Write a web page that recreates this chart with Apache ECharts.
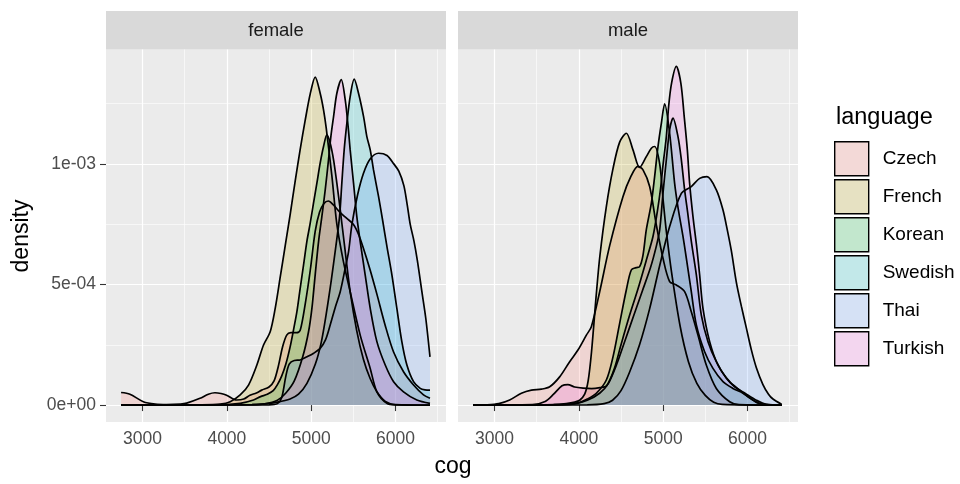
<!DOCTYPE html>
<html>
<head>
<meta charset="utf-8">
<script src="https://cdn.jsdelivr.net/npm/echarts@6/dist/echarts.min.js"></script>
<style>
html,body{margin:0;padding:0;background:#ffffff;}
#chart{width:960px;height:484px;}
</style>
</head>
<body>
<div id="chart"></div>
<script>
// ---- data (x = cog, y = density in units of 1e-3) ----
const languages = ['Czech', 'French', 'Korean', 'Swedish', 'Thai', 'Turkish'];
const fillColors = ['#F8766D', '#B79F00', '#00BA38', '#00BFC4', '#619CFF', '#F564E3'];
const panels = ['female', 'male'];
const xTickValues = [3000, 4000, 5000, 6000];
const xTickLabels = ['3000', '4000', '5000', '6000'];
const xMinorValues = [3500, 4500, 5500, 6500];
const yTickValues = [0, 0.0005, 0.001];
const yTickLabels = ['0e+00', '5e-04', '1e-03'];
const yMinorValues = [0.00025, 0.00075, 0.00125];
const DENSITY_UNIT = 1e-3;

const femaleCzech = [[2745,0.052],[2850,0.045],[3009,0.014],[3150,0.004],[3285,0.002],[3450,0.004],[3523,0.008],[3681,0.028],[3780,0.045],[3859,0.051],[3930,0.048],[3997,0.041],[4116,0.021],[4200,0.025],[4274,0.041],[4350,0.05],[4413,0.062],[4500,0.075],[4560,0.1],[4610,0.16],[4660,0.24],[4710,0.29],[4760,0.30],[4830,0.30],[4870,0.31],[4930,0.42],[4990,0.56],[5048,0.72],[5100,0.80],[5150,0.835],[5204,0.846],[5264,0.83],[5340,0.80],[5420,0.775],[5500,0.75],[5560,0.71],[5620,0.65],[5700,0.56],[5780,0.46],[5879,0.33],[5978,0.22],[6096,0.138],[6215,0.083],[6333,0.042],[6410,0.028]];
const femaleFrench = [[2745,0],[3700,0.001],[3921,0.004],[4040,0.014],[4158,0.042],[4257,0.083],[4356,0.166],[4435,0.249],[4514,0.304],[4573,0.40],[4633,0.53],[4692,0.66],[4751,0.79],[4811,0.93],[4870,1.06],[4929,1.18],[4989,1.29],[5048,1.36],[5107,1.293],[5147,1.224],[5179,1.148],[5246,0.95],[5305,0.75],[5380,0.6],[5463,0.47],[5582,0.29],[5700,0.153],[5780,0.055],[5899,0.007],[6000,0.001],[6410,0]];
const femaleKorean = [[2745,0],[3900,0.001],[4158,0.007],[4316,0.021],[4400,0.035],[4480,0.045],[4550,0.06],[4600,0.085],[4650,0.12],[4700,0.17],[4750,0.24],[4790,0.31],[4831,0.387],[4870,0.484],[4910,0.581],[4949,0.678],[4989,0.754],[5028,0.837],[5068,0.92],[5107,1.003],[5147,1.072],[5187,1.12],[5226,1.086],[5266,1.017],[5305,0.92],[5345,0.81],[5400,0.65],[5463,0.47],[5540,0.31],[5620,0.19],[5700,0.11],[5780,0.055],[5880,0.015],[6000,0.002],[6410,0]];
const femaleSwedish = [[2745,0],[4300,0.002],[4450,0.005],[4600,0.012],[4750,0.025],[4850,0.045],[4950,0.09],[5050,0.17],[5120,0.26],[5180,0.38],[5240,0.52],[5290,0.65],[5337,0.781],[5364,0.92],[5392,1.058],[5424,1.169],[5463,1.279],[5511,1.351],[5562,1.293],[5622,1.196],[5661,1.113],[5701,1.058],[5740,0.975],[5800,0.864],[5851,0.76],[5898,0.66],[5958,0.54],[6017,0.401],[6076,0.263],[6136,0.166],[6215,0.097],[6294,0.069],[6350,0.063],[6410,0.062]];
const femaleThai = [[2745,0],[4500,0.001],[4600,0.006],[4650,0.03],[4700,0.12],[4740,0.17],[4800,0.185],[4870,0.187],[4950,0.2],[5030,0.215],[5107,0.235],[5170,0.27],[5226,0.332],[5290,0.41],[5345,0.47],[5400,0.56],[5444,0.636],[5483,0.747],[5550,0.87],[5620,0.96],[5700,1.02],[5800,1.044],[5900,1.035],[5980,1.0],[6040,0.97],[6100,0.91],[6140,0.83],[6175,0.75],[6220,0.68],[6260,0.60],[6314,0.47],[6360,0.36],[6410,0.2]];
const femaleTurkish = [[2745,0],[4300,0.002],[4450,0.005],[4600,0.02],[4700,0.05],[4800,0.1],[4900,0.2],[4969,0.304],[5009,0.401],[5048,0.54],[5088,0.678],[5127,0.781],[5167,0.892],[5206,1.017],[5234,1.113],[5266,1.196],[5305,1.293],[5357,1.349],[5404,1.266],[5440,1.15],[5463,1.058],[5503,0.92],[5542,0.781],[5582,0.678],[5641,0.54],[5701,0.401],[5780,0.263],[5879,0.166],[5978,0.097],[6096,0.055],[6254,0.021],[6410,0.007]];

const maleCzech = [[2745,0],[2900,0.001],[3050,0.006],[3179,0.021],[3318,0.049],[3437,0.062],[3555,0.066],[3654,0.076],[3772,0.117],[3891,0.18],[3989,0.228],[4089,0.29],[4148,0.325],[4247,0.47],[4365,0.66],[4523,0.864],[4620,0.95],[4701,0.99],[4761,0.975],[4840,0.906],[4919,0.747],[4998,0.609],[5077,0.512],[5156,0.498],[5255,0.47],[5334,0.387],[5413,0.29],[5512,0.166],[5631,0.069],[5789,0.014],[5900,0.002],[6410,0]];
const maleFrench = [[2745,0],[3700,0.002],[3850,0.006],[3950,0.012],[4010,0.02],[4069,0.045],[4110,0.1],[4150,0.22],[4207,0.46],[4250,0.62],[4326,0.823],[4405,0.98],[4484,1.09],[4563,1.127],[4642,1.058],[4721,0.985],[4800,1.03],[4860,1.065],[4899,1.072],[4959,1.0],[5000,0.85],[5038,0.72],[5100,0.55],[5200,0.33],[5300,0.18],[5400,0.09],[5500,0.04],[5600,0.012],[5700,0.003],[6410,0]];
const maleKorean = [[2745,0],[3800,0.002],[4000,0.01],[4100,0.025],[4207,0.049],[4326,0.104],[4405,0.2],[4484,0.339],[4563,0.477],[4622,0.56],[4680,0.57],[4721,0.574],[4760,0.62],[4800,0.726],[4860,0.837],[4899,0.947],[4939,1.072],[4979,1.169],[5018,1.249],[5077,1.127],[5136,0.92],[5176,0.82],[5235,0.70],[5275,0.609],[5334,0.47],[5394,0.332],[5492,0.221],[5591,0.152],[5710,0.097],[5828,0.069],[5947,0.049],[6065,0.021],[6184,0.003],[6410,0]];
const maleSwedish = [[2745,0],[3900,0.003],[4100,0.02],[4250,0.05],[4350,0.09],[4450,0.17],[4550,0.27],[4650,0.37],[4750,0.47],[4850,0.57],[4920,0.66],[4959,0.726],[4998,0.878],[5038,1.017],[5077,1.141],[5117,1.19],[5176,1.113],[5216,1.017],[5255,0.892],[5294,0.79],[5334,0.68],[5394,0.54],[5453,0.373],[5532,0.263],[5631,0.18],[5750,0.111],[5848,0.076],[5967,0.05],[6106,0.02],[6224,0.003],[6410,0]];
const maleThai = [[2745,0],[4100,0.001],[4300,0.006],[4400,0.02],[4500,0.06],[4600,0.135],[4720,0.25],[4840,0.40],[4960,0.58],[5077,0.74],[5216,0.878],[5334,0.906],[5433,0.94],[5520,0.947],[5631,0.892],[5710,0.809],[5750,0.745],[5809,0.64],[5868,0.51],[5928,0.41],[5987,0.32],[6046,0.23],[6106,0.155],[6184,0.085],[6250,0.045],[6303,0.025],[6405,0.003]];
const maleTurkish = [[2745,0],[3450,0.002],[3600,0.015],[3700,0.045],[3800,0.08],[3870,0.085],[3950,0.075],[4050,0.07],[4150,0.068],[4250,0.072],[4330,0.08],[4420,0.15],[4500,0.25],[4600,0.37],[4700,0.48],[4800,0.6],[4880,0.7],[4930,0.8],[4970,0.9],[5000,1.0],[5038,1.113],[5065,1.238],[5100,1.335],[5156,1.404],[5210,1.335],[5250,1.196],[5287,1.058],[5314,0.92],[5354,0.781],[5400,0.65],[5433,0.54],[5473,0.40],[5552,0.263],[5651,0.166],[5789,0.097],[5907,0.062],[6026,0.03],[6145,0.005],[6410,0]];

const curves = {
  female: [femaleCzech, femaleFrench, femaleKorean, femaleSwedish, femaleThai, femaleTurkish],
  male: [maleCzech, maleFrench, maleKorean, maleSwedish, maleThai, maleTurkish]
};

// ---- layout / style ----
const FONT = '"Liberation Sans", Arial, Helvetica, sans-serif';
const X_MIN = 2566, X_MAX = 6600;
const Y_MIN = -0.0000702, Y_MAX = 0.0014742;
const panelLeft = [106, 458];
const panelTop = 49.5, panelWidth = 340, panelHeight = 372.5;

function hexToRgb(h) { return [parseInt(h.substr(1,2),16), parseInt(h.substr(3,2),16), parseInt(h.substr(5,2),16)]; }
function blend(h, a, bg) {
  const c = hexToRgb(h), b = hexToRgb(bg);
  return 'rgb(' + c.map((v, i) => Math.round(a * v + (1 - a) * b[i])).join(',') + ')';
}
function nearestLabel(values, labels, v) {
  let best = 0;
  values.forEach((t, i) => { if (Math.abs(t - v) < Math.abs(values[best] - v)) best = i; });
  return labels[best];
}

const grids = [], xAxes = [], yAxes = [], series = [], graphics = [];
panels.forEach((p, pi) => {
  grids.push({left: panelLeft[pi], top: panelTop, width: panelWidth, height: panelHeight,
    show: true, backgroundColor: '#EBEBEB', borderWidth: 0, containLabel: false});
  // major x axis
  xAxes.push({type: 'value', gridIndex: pi, min: X_MIN, max: X_MAX,
    axisLine: {show: false},
    axisTick: {show: true, length: 6, customValues: xTickValues, lineStyle: {color: '#333333', width: 1.1}},
    axisLabel: {show: true, customValues: xTickValues, margin: 8, color: '#4D4D4D', fontSize: 17.5, fontFamily: FONT,
      formatter: function (v) { return nearestLabel(xTickValues, xTickLabels, v); }},
    splitLine: {show: true, lineStyle: {color: '#FFFFFF', width: 1.2}}
  });
  // minor x grid
  xAxes.push({type: 'value', gridIndex: pi, min: X_MIN, max: X_MAX,
    axisLine: {show: false},
    axisTick: {show: false, customValues: xMinorValues},
    axisLabel: {show: false, customValues: xMinorValues},
    splitLine: {show: true, lineStyle: {color: '#FFFFFF', width: 0.6}}
  });
  yAxes.push({type: 'value', gridIndex: pi, min: Y_MIN, max: Y_MAX,
    axisLine: {show: false},
    axisTick: {show: pi === 0, length: 6, customValues: yTickValues, lineStyle: {color: '#333333', width: 1.1}},
    axisLabel: {show: pi === 0, customValues: yTickValues, margin: 10, color: '#4D4D4D', fontSize: 17.5, fontFamily: FONT,
      formatter: function (v) { return nearestLabel(yTickValues, yTickLabels, v); }},
    splitLine: {show: true, lineStyle: {color: '#FFFFFF', width: 1.2}}
  });
  yAxes.push({type: 'value', gridIndex: pi, min: Y_MIN, max: Y_MAX,
    axisLine: {show: false},
    axisTick: {show: false, customValues: yMinorValues},
    axisLabel: {show: false, customValues: yMinorValues},
    splitLine: {show: true, lineStyle: {color: '#FFFFFF', width: 0.6}}
  });
  languages.forEach((lang, li) => {
    series.push({
      type: 'line', name: lang,
      xAxisIndex: pi * 2, yAxisIndex: pi * 2,
      data: curves[p][li].map(d => [d[0], d[1] * DENSITY_UNIT]),
      smooth: 0.3, symbol: 'none', showSymbol: false,
      lineStyle: {color: '#000000', width: 1.7},
      itemStyle: {color: fillColors[li]},
      areaStyle: {color: fillColors[li], opacity: 0.2},
      z: 2, silent: true, animation: false
    });
  });
  // facet strip
  graphics.push({type: 'rect', left: panelLeft[pi], top: 11, shape: {width: panelWidth, height: 38.5},
    style: {fill: '#D9D9D9'}, silent: true});
  graphics.push({type: 'text', x: panelLeft[pi] + panelWidth / 2, y: 30.5,
    style: {text: p, fill: '#1A1A1A', font: '18.5px ' + FONT, align: 'center', verticalAlign: 'middle'}, silent: true});
});

// axis titles
graphics.push({type: 'text', x: 453, y: 467,
  style: {text: 'cog', fill: '#000000', font: '23px ' + FONT, align: 'center', verticalAlign: 'middle'}});
graphics.push({type: 'text', x: 22, y: 236, rotation: Math.PI / 2,
  style: {text: 'density', fill: '#000000', font: '23px ' + FONT, align: 'center', verticalAlign: 'middle'}});
// legend title
graphics.push({type: 'text', x: 836, y: 118,
  style: {text: 'language', fill: '#000000', font: '23.5px ' + FONT, align: 'left', verticalAlign: 'middle'}});

const option = {
  backgroundColor: '#FFFFFF',
  animation: false,
  grid: grids,
  xAxis: xAxes,
  yAxis: yAxes,
  legend: {
    orient: 'vertical', left: 829, top: 136, padding: 5, itemWidth: 34, itemHeight: 34, itemGap: 2.6,
    icon: 'rect', selectedMode: false,
    textStyle: {fontSize: 19, color: '#000000', fontFamily: FONT, padding: [2, 0, 0, 9]},
    data: languages.map((l, i) => ({name: l, itemStyle: {color: blend(fillColors[i], 0.2, '#F2F2F2'), borderColor: '#000000', borderWidth: 1.4}}))
  },
  graphic: graphics,
  series: series
};

const chart = echarts.init(document.getElementById('chart'), null, {renderer: 'canvas'});
chart.setOption(option);
</script>
</body>
</html>
